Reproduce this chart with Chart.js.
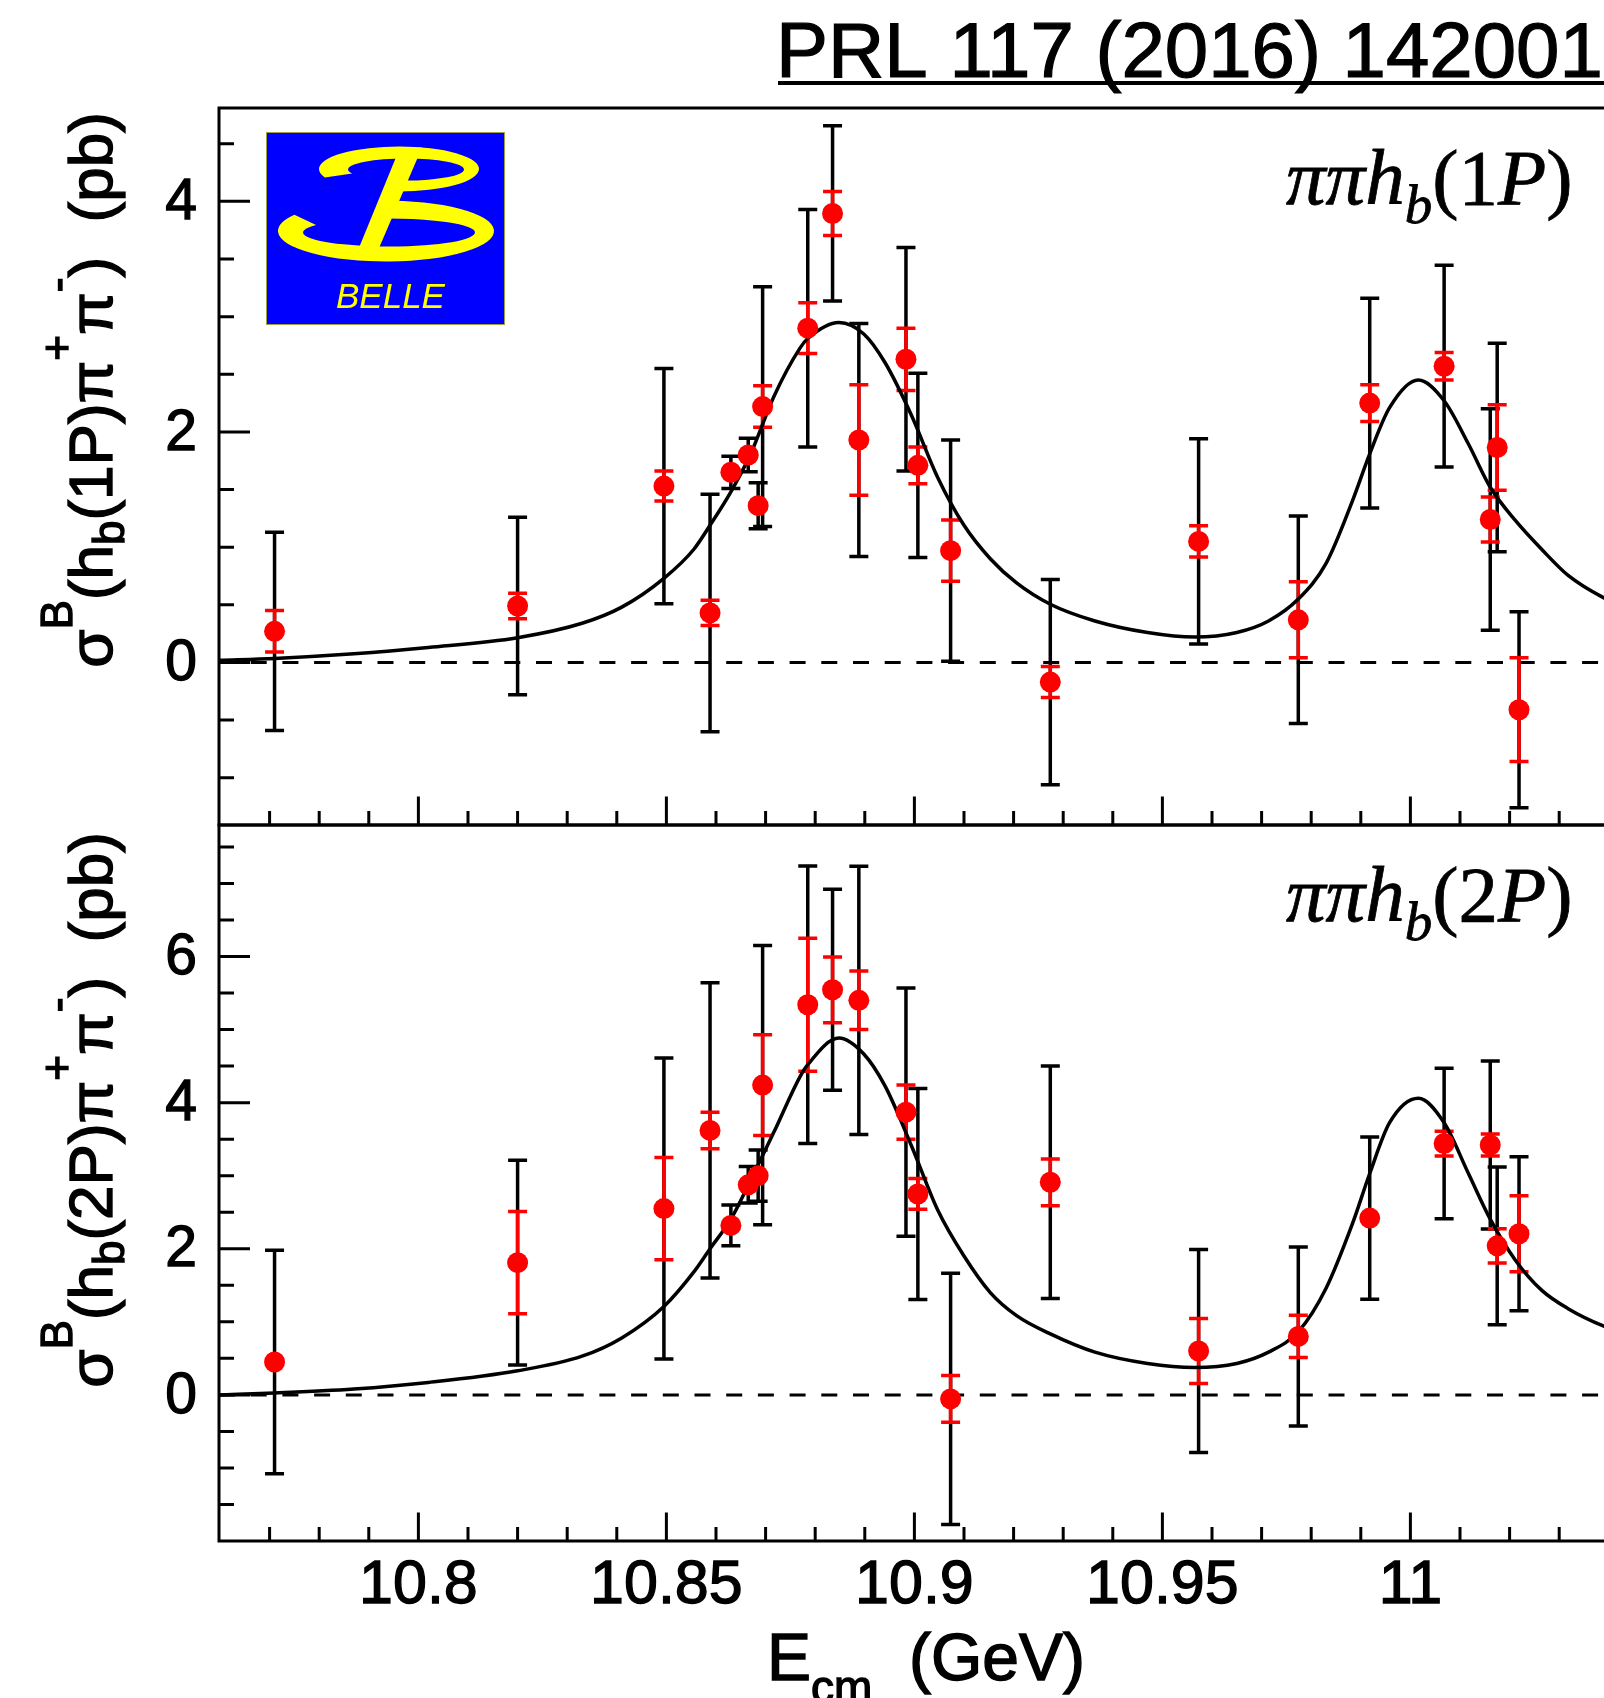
<!DOCTYPE html>
<html>
<head>
<meta charset="utf-8">
<title>Belle h_b pi pi cross sections</title>
<script src="https://cdn.jsdelivr.net/npm/chart.js@4.4.1/dist/chart.umd.min.js"></script>
<style>
  html, body { margin: 0; padding: 0; background: #fff; overflow: hidden; width: 1604px; height: 1698px; }
  canvas { position: absolute; left: 0; top: 0; }
</style>
</head>
<body>
<canvas id="panel1P" width="1720" height="1698"></canvas>
<canvas id="panel2P" width="1720" height="1698"></canvas>
<script>
// scan energies (GeV)
const energies = [10.771, 10.820, 10.8495, 10.8588, 10.863, 10.8665, 10.8685, 10.8694, 10.8785, 10.8835, 10.8888,
                  10.8983, 10.9007, 10.9073, 10.9274, 10.9573, 10.9774, 10.9918, 11.0068, 11.0161, 11.0175, 11.0219];

// sigma(hb(1P) pi pi) in pb, with stat (red) and total (black) errors
const sigma1P = [0.27, 0.49, 1.53, 0.43, 1.65, 1.80, 1.36, 2.22, 2.90, 3.895, 1.93, 2.63, 1.71, 0.97, -0.17, 1.05, 0.37, 2.25, 2.57, 1.24, 1.865, -0.41];
const stat1P  = [0.18, 0.11, 0.13, 0.11, 0.05, 0.05, 0.06, 0.18, 0.22, 0.19, 0.48, 0.27, 0.16, 0.265, 0.135, 0.135, 0.33, 0.16, 0.12, 0.195, 0.37, 0.45];
const total1P = [0.86, 0.77, 1.02, 1.03, 0.14, 0.145, 0.20, 1.04, 1.03, 0.76, 1.01, 0.97, 0.80, 0.96, 0.89, 0.89, 0.90, 0.91, 0.875, 0.96, 0.905, 0.85];

// sigma(hb(2P) pi pi) in pb
const sigma2P = [0.45, 1.81, 2.55, 3.62, 2.32, 2.875, 3.0, 4.24, 5.34, 5.545, 5.40, 3.87, 2.75, -0.055, 2.91, 0.60, 0.80, 2.42, 3.44, 3.42, 2.04, 2.205];
const stat2P  = [0.10, 0.70, 0.70, 0.25, 0.08, 0.08, 0.10, 0.69, 0.91, 0.45, 0.40, 0.37, 0.21, 0.32, 0.32, 0.445, 0.29, 0.10, 0.17, 0.15, 0.235, 0.52];
const total2P = [1.53, 1.40, 2.06, 2.02, 0.28, 0.25, 0.35, 1.91, 1.90, 1.375, 1.835, 1.70, 1.445, 1.72, 1.59, 1.39, 1.225, 1.11, 1.03, 1.15, 1.08, 1.055];

// fit curves, sampled
const fitEnergies = [10.760, 10.771, 10.787, 10.802, 10.820, 10.833, 10.841, 10.8495, 10.8555, 10.8588, 10.863, 10.867,
                     10.8717, 10.8769, 10.8785, 10.8848, 10.8898, 10.8941, 10.8994, 10.9047, 10.910, 10.9153, 10.9206,
                     10.9274, 10.9364, 10.947, 10.9565, 10.965, 10.9714, 10.9774, 10.983, 10.9883, 10.9918, 10.9958,
                     11.0016, 11.0068, 11.0117, 11.0161, 11.0212, 11.0265, 11.0318, 11.039, 11.045];
const fit1P = [0.02, 0.035, 0.075, 0.13, 0.215, 0.34, 0.48, 0.73, 0.98, 1.19, 1.48, 1.81,
               2.31, 2.725, 2.81, 2.95, 2.85, 2.60, 2.145, 1.605, 1.19, 0.90, 0.69,
               0.505, 0.36, 0.26, 0.22, 0.26, 0.36, 0.55, 0.86, 1.40, 1.81, 2.21,
               2.45, 2.27, 1.895, 1.52, 1.23, 0.98, 0.755, 0.56, 0.45];
const fit2P = [0.0, 0.025, 0.08, 0.17, 0.33, 0.53, 0.78, 1.21, 1.68, 2.0, 2.405, 2.94,
               3.6, 4.35, 4.52, 4.885, 4.665, 4.225, 3.41, 2.53, 1.90, 1.40, 1.085,
               0.835, 0.585, 0.43, 0.375, 0.43, 0.585, 0.865, 1.46, 2.34, 3.03, 3.725,
               4.06, 3.725, 3.03, 2.405, 1.84, 1.43, 1.18, 0.94, 0.80];

const xTickLabels = ['10.8', '10.85', '10.9', '10.95', '11'];
const yTickLabels1P = ['0', '2', '4'];
const yTickLabels2P = ['0', '2', '4', '6'];

const SANS = '"Liberation Sans", Arial, Helvetica, sans-serif';
const SERIF = '"Liberation Serif", "Times New Roman", serif';
const MARKER_R = 10.5;
const CAP = 9.5;
const CANVAS_W = 1720, CANVAS_H = 1698;

// fill + thin outline, gives the heavier look of the PostScript Helvetica
function heavyText(ctx, t, x, y, weight) {
  ctx.fillText(t, x, y);
  ctx.lineWidth = weight;
  ctx.strokeText(t, x, y);
}

// draws a list of text pieces one after the other on a common baseline
function drawRich(ctx, parts, x, y, align, weight) {
  let total = 0;
  parts.forEach(p => { ctx.font = p.font; p.w = ctx.measureText(p.t).width; total += p.w; });
  let cx = align === 'center' ? x - total / 2 : x;
  parts.forEach(p => {
    ctx.font = p.font;
    heavyText(ctx, p.t, cx, y + (p.dy || 0), weight);
    cx += p.w;
  });
}

function drawErrorBars(chart, values, errs, color) {
  const { ctx, scales: { x, y } } = chart;
  ctx.save();
  ctx.strokeStyle = color;
  ctx.lineWidth = 3.5;
  energies.forEach((e, i) => {
    const px = x.getPixelForValue(e);
    const py = y.getPixelForValue(values[i]);
    const hi = y.getPixelForValue(values[i] + errs[i]);
    const lo = y.getPixelForValue(values[i] - errs[i]);
    if (py - hi <= MARKER_R) return; // hidden behind the marker
    ctx.beginPath();
    ctx.moveTo(px, hi); ctx.lineTo(px, lo);
    ctx.moveTo(px - CAP, hi); ctx.lineTo(px + CAP, hi);
    ctx.moveTo(px - CAP, lo); ctx.lineTo(px + CAP, lo);
    ctx.stroke();
  });
  ctx.restore();
}

function ring(ctx, ox, oy, orx, ory, ix, iy, irx, iry, a0, a1) {
  ctx.beginPath();
  ctx.ellipse(ox, oy, orx, ory, 0, a0, a1, false);
  ctx.ellipse(ix, iy, irx, iry, 0, a1, a0, true);
  ctx.closePath();
  ctx.fill();
}

function drawLogo(ctx) {
  const d = Math.PI / 180;
  ctx.save();
  ctx.fillStyle = '#0000ff';
  ctx.fillRect(266, 132, 239, 193);
  ctx.strokeStyle = '#a0a040';
  ctx.lineWidth = 1;
  ctx.strokeRect(266.5, 132.5, 238, 192);
  ctx.fillStyle = '#ffff00';
  ring(ctx, 399, 169, 80, 22.5, 406, 169.5, 58, 11, 158 * d, 450 * d);   // upper bowl
  ring(ctx, 386, 231, 108, 30.5, 389, 232.5, 86, 14, 268 * d, 572 * d);  // lower bowl
  ctx.beginPath();                                                         // slanted stem
  ctx.moveTo(400, 147.5); ctx.lineTo(422, 147.5);
  ctx.lineTo(375, 257.5); ctx.lineTo(355, 257.5);
  ctx.closePath();
  ctx.fill();
  ctx.font = `italic 35px ${SANS}`;
  ctx.textAlign = 'left';
  ctx.textBaseline = 'alphabetic';
  ctx.fillText('BELLE', 336, 308);
  ctx.restore();
}

function makePanel(id, cfg) {
  const framePlugin = {
    id: 'rootFrame',
    beforeDatasetsDraw(chart) {
      const { ctx, chartArea: a, scales: { y } } = chart;
      const y0 = y.getPixelForValue(0);
      ctx.save();
      ctx.strokeStyle = '#000';
      ctx.lineWidth = 3;
      ctx.setLineDash([16, 15.7]);
      ctx.beginPath();
      ctx.moveTo(a.left, y0); ctx.lineTo(a.right, y0);
      ctx.stroke();
      ctx.restore();
      drawErrorBars(chart, cfg.values, cfg.total, '#000000');
      drawErrorBars(chart, cfg.values, cfg.stat, '#ff0000');
    },
    afterDraw(chart) {
      const { ctx, chartArea: a, scales: { x, y } } = chart;
      ctx.save();
      ctx.strokeStyle = '#000';
      ctx.fillStyle = '#000';
      ctx.lineWidth = 3;
      ctx.strokeRect(a.left, a.top, a.right - a.left, a.bottom - a.top);

      // x ticks, pointing into the frame
      ctx.beginPath();
      for (let k = 0; k <= 29; k++) {
        const v = 10.77 + k * 0.01;
        const px = x.getPixelForValue(v);
        const major = k % 5 === 3;
        ctx.moveTo(px, a.bottom);
        ctx.lineTo(px, a.bottom - (major ? 28.5 : 14));
      }
      // y ticks
      for (let v = cfg.minorFrom; v <= cfg.minorTo + 1e-9; v += 0.5) {
        const py = y.getPixelForValue(v);
        const major = Math.abs(v / 2 - Math.round(v / 2)) < 1e-6;
        ctx.moveTo(a.left, py);
        ctx.lineTo(a.left + (major ? 31 : 15), py);
      }
      ctx.stroke();

      ctx.font = `57px ${SANS}`;
      ctx.textAlign = 'right';
      ctx.textBaseline = 'middle';
      cfg.yLabels.forEach(l => heavyText(ctx, l, a.left - 22, y.getPixelForValue(parseFloat(l)) + 2, 1.3));

      if (cfg.xLabels) {
        ctx.font = `61px ${SANS}`;
        ctx.textAlign = 'center';
        ctx.textBaseline = 'alphabetic';
        cfg.xLabels.forEach(l => heavyText(ctx, l, x.getPixelForValue(parseFloat(l)), 1603, 1.3));
        ctx.textAlign = 'left';
        drawRich(ctx, [
          { t: 'E', font: `66px ${SANS}` },
          { t: 'cm', font: `46px ${SANS}`, dy: 23 },
          { t: '  (GeV)', font: `66px ${SANS}` }
        ], 767, 1680, 'left', 1.4);
      }

      // rotated y title
      ctx.save();
      ctx.translate(112, cfg.titleCenter);
      ctx.rotate(-Math.PI / 2);
      ctx.textAlign = 'left';
      ctx.textBaseline = 'alphabetic';
      drawRich(ctx, [
        { t: 'σ', font: `62px ${SANS}` },
        { t: 'B', font: `44px ${SANS}`, dy: -40 },
        { t: '(h', font: `62px ${SANS}` },
        { t: 'b', font: `44px ${SANS}`, dy: 12 },
        { t: cfg.state + ')π', font: `62px ${SANS}` },
        { t: '+', font: `44px ${SANS}`, dy: -40 },
        { t: 'π', font: `62px ${SANS}` },
        { t: '-', font: `44px ${SANS}`, dy: -40 },
        { t: ')  (pb)', font: `62px ${SANS}` }
      ], 0, 0, 'center', 1.4);
      ctx.restore();

      // channel label
      ctx.textAlign = 'left';
      ctx.textBaseline = 'alphabetic';
      drawRich(ctx, [
        { t: 'ππh', font: `italic 79px ${SERIF}` },
        { t: 'b', font: `italic 55px ${SERIF}`, dy: 19 },
        { t: '(' + cfg.state.charAt(1), font: `79px ${SERIF}` },
        { t: 'P', font: `italic 79px ${SERIF}` },
        { t: ')', font: `79px ${SERIF}` }
      ], 1286, a.top + 96, 'left', 0.8);

      if (cfg.header) {
        ctx.font = `78px ${SANS}`;
        heavyText(ctx, 'PRL 117 (2016) 142001', 776, 77, 1.2);
        ctx.fillRect(778, 81, 900, 4);
        drawLogo(ctx);
      }
      ctx.restore();
    }
  };

  return new Chart(document.getElementById(id), {
    type: 'scatter',
    data: {
      datasets: [
        {
          label: 'data',
          data: energies.map((e, i) => ({ x: e, y: cfg.values[i] })),
          pointRadius: MARKER_R,
          pointBackgroundColor: '#ff0000',
          pointBorderWidth: 0,
          order: 0
        },
        {
          label: 'fit',
          data: fitEnergies.map((e, i) => ({ x: e, y: cfg.fit[i] })),
          showLine: true,
          borderColor: '#000',
          borderWidth: 3.5,
          pointRadius: 0,
          cubicInterpolationMode: 'monotone',
          order: 1
        }
      ]
    },
    options: {
      responsive: false,
      animation: false,
      devicePixelRatio: 1,
      events: [],
      layout: { padding: { left: 219, right: CANVAS_W - 1708, top: cfg.top, bottom: CANVAS_H - cfg.bottom } },
      plugins: { legend: { display: false }, tooltip: { enabled: false } },
      scales: {
        x: { type: 'linear', display: false, min: 10.7598, max: 11.06 },
        y: { type: 'linear', display: false, min: cfg.ymin, max: cfg.ymax }
      }
    },
    plugins: [framePlugin]
  });
}

makePanel('panel2P', {
  values: sigma2P, stat: stat2P, total: total2P, fit: fit2P,
  top: 825, bottom: 1541, ymin: -2.0, ymax: 7.8,
  minorFrom: -1.5, minorTo: 7.5, yLabels: yTickLabels2P, xLabels: xTickLabels,
  state: '(2P', titleCenter: 1110
});

makePanel('panel1P', {
  values: sigma1P, stat: stat1P, total: total1P, fit: fit1P,
  top: 108, bottom: 825, ymin: -1.41, ymax: 4.81,
  minorFrom: -1.0, minorTo: 4.5, yLabels: yTickLabels1P, xLabels: null,
  state: '(1P', titleCenter: 390, header: true
});
</script>
</body>
</html>
